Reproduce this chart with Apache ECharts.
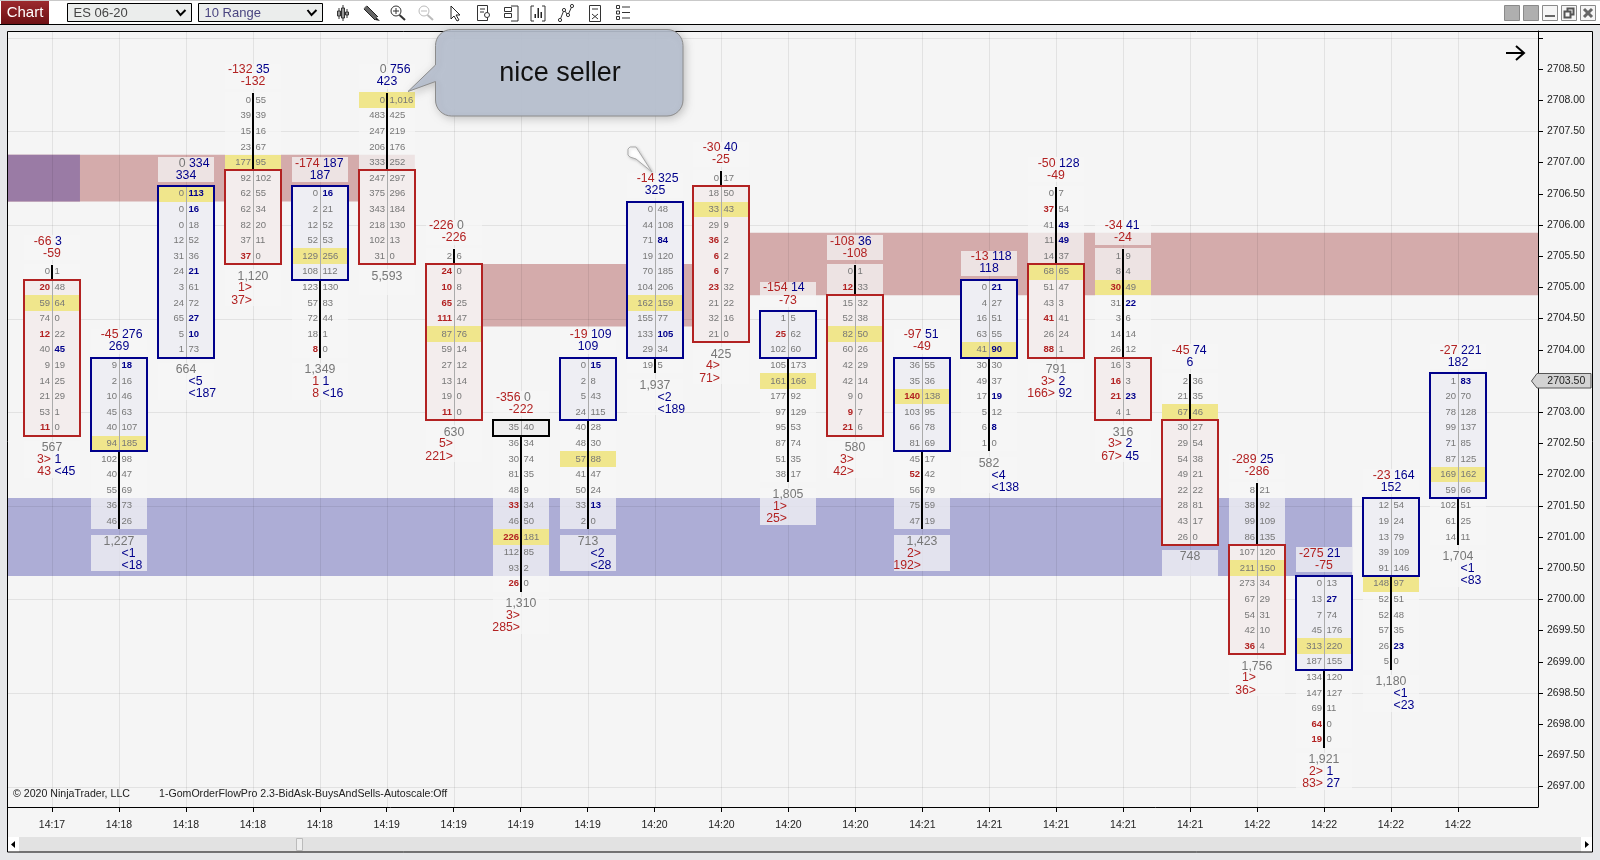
<!DOCTYPE html>
<html>
<head>
<meta charset="utf-8">
<style>html,body{margin:0;padding:0;background:#e6e7e9;overflow:hidden}#c{width:1600px;height:860px}</style>
<script src="https://cdn.jsdelivr.net/npm/echarts@6/dist/echarts.min.js"></script>
</head>
<body>
<div id="c"></div>
<script>
const timeLabels = ['14:17','14:18','14:18','14:18','14:18','14:19','14:19','14:19','14:19','14:20','14:20','14:20','14:20','14:21','14:21','14:21','14:21','14:21','14:22','14:22','14:22','14:22'];
const topPrices = [2705.25,2703.75,2706.5,2708,2706.5,2708,2705.5,2702.75,2703.75,2706.25,2706.75,2704.5,2705.25,2703.75,2705,2706.5,2705.5,2703.5,2701.75,2700.25,2701.5,2703.5];
const bidRows = [
 [0,20,59,74,12,40,9,14,21,53,11],[9,2,10,45,40,94,102,40,55,36,46],[0,0,0,12,31,24,3,24,65,5,1],
 [0,39,15,23,177,92,62,62,82,37,37],[0,2,12,52,129,108,123,57,72,18,8],[0,483,247,206,333,247,375,343,218,102,31],
 [2,24,10,65,111,87,59,27,13,19,11],[35,36,30,81,48,33,46,226,112,93,26],[0,2,5,24,40,48,57,41,50,33,2],
 [0,44,71,19,70,104,162,155,133,29,19],[0,18,33,29,36,6,6,23,21,32,21],[1,25,102,105,161,177,97,95,87,51,38],
 [0,12,15,52,82,60,42,42,9,9,21],[36,35,140,103,66,81,45,52,56,75,47],[0,4,16,63,41,30,49,17,5,6,1],
 [0,37,41,11,14,68,51,43,41,26,88],[1,8,30,31,3,14,26,16,16,21,4],[2,21,67,30,29,54,49,22,28,43,26],
 [8,38,99,86,107,211,273,67,54,42,36],[0,13,7,45,313,187,134,147,69,64,19],[12,19,13,39,91,148,52,52,57,26,5],
 [1,20,78,99,71,87,169,59,102,61,14]];
const askRows = [
 [1,48,64,0,22,45,19,25,29,1,0],[18,16,46,63,107,185,98,47,69,73,26],[113,16,18,52,36,21,61,72,27,10,73],
 [55,39,16,67,95,102,55,34,20,11,0],[16,21,52,53,256,112,130,83,44,1,0],['1,016',425,219,176,252,297,296,184,130,13,0],
 [6,0,8,25,47,76,14,12,14,0,0],[40,34,74,35,9,34,50,181,85,2,0],[15,8,43,115,28,30,88,47,24,13,0],
 [48,108,84,120,185,206,159,77,105,34,5],[17,50,43,9,2,2,7,32,22,16,0],[5,62,60,173,166,92,129,53,74,35,17],
 [1,33,32,38,50,26,29,14,0,7,6],[55,36,138,95,78,69,17,42,79,59,19],[21,27,51,55,90,30,37,19,12,8,0],
 [7,54,43,49,37,65,47,3,41,24,1],[9,4,49,22,6,14,12,3,3,23,1],[36,35,46,27,54,38,21,22,81,17,0],
 [21,92,109,135,120,150,34,29,31,10,4],[13,27,74,176,220,155,120,127,11,0,0],[54,24,79,109,146,97,51,48,35,23,0],
 [83,70,128,137,85,125,162,66,51,25,11]];
const pocRow = [2,5,0,4,4,0,5,7,6,6,2,4,4,2,4,5,2,2,5,4,5,6];
const bodyFirst = [1,0,0,5,0,5,1,0,0,0,1,0,2,0,0,5,7,3,4,0,0,0];
const bodyLast = [10,5,10,10,5,10,10,0,3,9,10,2,10,5,4,10,10,10,10,5,4,7];
const bodyKind = ['r','b','b','r','b','r','r','k','b','b','r','b','r','b','b','r','r','r','r','b','b','b'];
const boldBid = [[1,4,10],[],[],[10],[10],[],[1,2,3,4,10],[5,7,10],[],[],[4,5,6,7],[1],[1,9,10],[2,7],[],[1,8,10],[2,8,9],[],[10],[9,10],[],[]];
const boldAsk = [[5],[0],[0,1,5,8,9],[],[0],[],[],[],[0,9],[2,8],[],[],[],[],[0,4,7,9],[2,3],[3,9],[],[],[1],[9],[0]];
const deltaLow = [-66,-45,0,-132,-174,0,-226,-356,-19,-14,-30,-154,-108,-97,-13,-50,-34,-45,-289,-275,-23,-27];
const deltaHigh = [3,276,334,35,187,756,0,0,109,325,40,14,36,51,118,128,41,74,25,21,164,221];
const deltaClose = [-59,269,334,-132,187,423,-226,-222,109,325,-25,-73,-108,-49,118,-49,-24,6,-286,-75,152,182];
const volumes = ['567','1,227','664','1,120','1,349','5,593','630','1,310','713','1,937','425','1,805','580','1,423','582','791','316','748','1,756','1,921','1,180','1,704'];
const sellLine1 = ['3>','','','1>','1','','5>','3>','','','4>','1>','3>','2>','','3>','3>','','1>','2>','',''];
const buyLine1 = ['1','<1','<5','','1','','','','<2','<2','','','','','<4','2','2','','','1','<1','<1'];
const sellLine2 = ['43','','','37>','8','','221>','285>','','','71>','25>','42>','192>','','166>','67>','','36>','83>','',''];
const buyLine2 = ['<45','<18','<187','','<16','','','','<28','<189','','','','','<138','92','45','','','27','<23','<83'];
const bandTop = [2707.125,2707.125,2705.375,2705.875,2701.625];
const bandBottom = [2706.375,2706.375,2704.375,2704.875,2700.375];
const bandStart = [-0.657,-0.657,6,10,-0.657];
const bandEnd = [5.42,0.418,10.42,22.196,19.42];
const bandColor = ['#D4ABAB','#9A7BA5','#D4ABAB','#D4ABAB','#ADADD6'];
const gridPrices = [2709,2707.5,2706,2704.5,2703,2701.5,2700,2698.5,2697];
const priceTicks = [2709,2708.5,2708,2707.5,2707,2706.5,2706,2705.5,2705,2704.5,2704,2703.5,2703,2702.5,2702,2701.5,2701,2700.5,2700,2699.5,2699,2698.5,2698,2697.5,2697];
const priceLabels = priceTicks.slice(1);
const lastPrice = 2703.5;

const FF = '"Liberation Sans", Arial, sans-serif';
const RED = '#B22222', BLUE = '#00008B', GREY = '#777777', KHAKI = '#F0E68C';
const colIdx = timeLabels.map((_, i) => i);
const signColor = v => v < 0 ? RED : v > 0 ? BLUE : '#777';

function txt(x, y, text, fill, font, align) {
  return { type: 'text', silent: true, style: { x, y, text: String(text), fill, font, align, verticalAlign: 'middle' } };
}
function box(x, y, width, height, fill) {
  const x1 = Math.round(x), y1 = Math.round(y), x2 = Math.round(x + width), y2 = Math.round(y + height);
  return { type: 'rect', silent: true, shape: { x: x1, y: y1, width: x2 - x1, height: y2 - y1 }, style: { fill } };
}
function renderColumn(params, api) {
  const i = api.value(0);
  const top = topPrices[i];
  const p0 = api.coord([i, top]);
  const cx = Math.round(p0[0]), y0 = p0[1];
  const h = api.size([0, 0.25])[1];
  const n = bidRows[i].length;
  const ch = [];
  const rowY = k => y0 + k * h;
  const bT = Math.round(rowY(bodyFirst[i]) - h / 2), bB = Math.round(rowY(bodyLast[i]) + h / 2);
  const wash = 'rgba(245,245,245,0.75)';
  ch.push(box(cx - 28, y0 - 36.5, 56, 25, wash));
  const yLast = rowY(n - 1);
  const hasLines = sellLine1[i] || buyLine1[i] || sellLine2[i] || buyLine2[i];
  ch.push(box(cx - 28, yLast + 13.3, 56, hasLines ? 36.7 : 26, wash));
  for (let k = 0; k < n; k++) {
    if (k < bodyFirst[i] || k > bodyLast[i]) ch.push(box(cx - 28, rowY(k) - h / 2, 56, h, wash));
  }
  const kind = bodyKind[i];
  const fill = kind === 'r' ? '#F3EDED' : kind === 'b' ? '#EEEEF3' : '#EEEEEE';
  const stroke = kind === 'r' ? RED : kind === 'b' ? BLUE : '#000';
  ch.push(box(cx - 28, bT, 56, bB - bT, fill));
  const pocIn = pocRow[i] >= bodyFirst[i] && pocRow[i] <= bodyLast[i];
  ch.push(box(cx - 28, rowY(pocRow[i]) - h / 2, 56, h, KHAKI));
  ch.push(box(cx, bT, 1, bB - bT, '#ABABAB'));
  if (bodyFirst[i] > 0) ch.push(box(cx - 1, y0 - h / 2 + 1, 2, bT - y0 + h / 2 - 1, '#000'));
  if (bodyLast[i] < n - 1) ch.push(box(cx - 1, bB, 2, yLast + h / 2 - bB, '#000'));
  ch.push({ type: 'rect', silent: true, shape: { x: cx - 28, y: bT, width: 56, height: bB - bT },
    style: { fill: 'none', stroke, lineWidth: 2 } });
  for (let k = 0; k < n; k++) {
    const by = rowY(k);
    const bb = boldBid[i].includes(k), ab = boldAsk[i].includes(k);
    ch.push(txt(cx - 2, by, bidRows[i][k], bb ? RED : GREY, (bb ? 'bold ' : '') + '9.5px ' + FF, 'right'));
    ch.push(txt(cx + 2.5, by, askRows[i][k], ab ? BLUE : GREY, (ab ? 'bold ' : '') + '9.5px ' + FF, 'left'));
  }
  const big = '12.3px ' + FF;
  ch.push(txt(cx - 0.5, y0 - 30.5, deltaLow[i], signColor(deltaLow[i]), big, 'right'));
  ch.push(txt(cx + 3, y0 - 30.5, deltaHigh[i], signColor(deltaHigh[i]), big, 'left'));
  ch.push(txt(cx, y0 - 18.3, deltaClose[i], signColor(deltaClose[i]), big, 'center'));
  ch.push(txt(cx, yLast + 20, volumes[i], '#777', big, 'center'));
  ch.push(txt(cx - 1, yLast + 31.8, sellLine1[i], RED, big, 'right'));
  ch.push(txt(cx + 2.5, yLast + 31.8, buyLine1[i], BLUE, big, 'left'));
  ch.push(txt(cx - 1, yLast + 44, sellLine2[i], RED, big, 'right'));
  ch.push(txt(cx + 2.5, yLast + 44, buyLine2[i], BLUE, big, 'left'));
  return { type: 'group', children: ch };
}
function renderBand(params, api) {
  const i = api.value(0);
  const a = api.coord([bandStart[i], bandTop[i]]);
  const b = api.coord([bandEnd[i], bandBottom[i]]);
  return { type: 'rect', silent: true, shape: { x: a[0], y: a[1], width: b[0] - a[0], height: b[1] - a[1] }, style: { fill: bandColor[i] } };
}
const gridStroke = 'rgba(0,0,0,0.075)';
function renderHLine(params, api) {
  const y = Math.round(api.coord([0, gridPrices[api.value(0)]])[1]) + 0.5;
  return { type: 'line', silent: true, shape: { x1: 8, y1: y, x2: 1538, y2: y }, style: { stroke: gridStroke, lineWidth: 1 } };
}
function renderVLine(params, api) {
  const x = Math.round(api.coord([api.value(0), 2700])[0]) + 0.5;
  return { type: 'line', silent: true, shape: { x1: x, y1: 31, x2: x, y2: 807 }, style: { stroke: gridStroke, lineWidth: 1 } };
}

const g = [];
const rect = (x, y, w, h, fill, stroke, extra) => ({ type: 'rect', silent: true, z: (extra && extra.z) || 200, shape: { x, y, width: w, height: h, r: (extra && extra.r) || 0 }, style: Object.assign({ fill, stroke: stroke || null, lineWidth: 1 }, (extra && extra.style) || {}) });
const pl = (pts, stroke, lw, fill) => ({ type: 'polyline', silent: true, z: 201, shape: { points: pts }, style: { stroke: stroke || '#333', lineWidth: lw || 1, fill: fill || null } });
const poly = (pts, fill, stroke, extra) => ({ type: 'polygon', silent: true, z: (extra && extra.z) || 201, shape: { points: pts }, style: Object.assign({ fill, stroke: stroke || null, lineWidth: 1 }, (extra && extra.style) || {}) });
const tx = (x, y, text, fill, font, align) => ({ type: 'text', silent: true, z: 202, x, y, style: { text, fill, font, align: align || 'left', verticalAlign: 'middle' } });

g.push(rect(7.5, 31.5, 1585, 820.5, '#F5F5F5', null, { z: -10 }));
g.push(rect(0, 0, 1600, 24, '#fff'));
g.push(rect(0, 0, 1600, 1, '#c9c9c9'));
g.push(rect(0, 24, 1600, 1, '#000'));
g.push({ type: 'rect', silent: true, z: 200, shape: { x: 1, y: 1, width: 48, height: 23 },
  style: { fill: { type: 'linear', x: 0, y: 0, x2: 0, y2: 1, colorStops: [{ offset: 0, color: '#9c2a2e' }, { offset: 1, color: '#6e1014' }] } } });
g.push(tx(25, 13, 'Chart', '#fff', '15px ' + FF, 'center'));
[[67.5, 'ES 06-20', '#444'], [198.5, '10 Range', '#4a4580']].forEach(d => {
  g.push(rect(d[0], 3.5, 124, 18, '#EBEDEC', '#000'));
  g.push(tx(d[0] + 6, 13, d[1], d[2], '13px ' + FF));
  g.push(pl([[d[0] + 109, 10], [d[0] + 113, 15], [d[0] + 118, 10]], '#000', 2));
});
[[339, 8, 19], [343, 5, 21], [347, 9, 18]].forEach(a => {
  g.push(pl([[a[0], a[1]], [a[0], a[2]]], '#333', 1));
  g.push(rect(a[0] - 1.5, a[1] + 3, 3, a[2] - a[1] - 6, '#fff', '#333'));
});
g.push(pl([[365, 7], [376, 18]], '#666', 4));
g.push(pl([[367, 6], [378, 17]], '#222', 1));
g.push(pl([[364, 9], [375, 20]], '#222', 1));
g.push(poly([[376, 17], [380, 21], [375, 20]], '#222'));
[[398, '#333', true], [426, '#bbb', false]].forEach(a => {
  g.push({ type: 'circle', silent: true, z: 201, shape: { cx: a[0] - 2, cy: 11, r: 5 }, style: { fill: '#fff', stroke: a[1], lineWidth: 1 } });
  g.push(pl([[a[0] + 1.5, 15], [a[0] + 7, 20]], a[1], 2));
  g.push(pl([[a[0] - 5, 11], [a[0] + 1, 11]], a[1], 1));
  if (a[2]) g.push(pl([[a[0] - 2, 8], [a[0] - 2, 14]], a[1], 1));
});
g.push(poly([[451, 6], [451, 19], [454, 16], [457, 21], [459, 20], [456, 15], [460, 15]], '#fff', '#222'));
g.push(rect(477.5, 5.5, 10, 15, '#fff', '#333'));
g.push(pl([[480, 9], [485, 9]], '#333', 1)); g.push(pl([[480, 12], [484, 12]], '#333', 1));
g.push({ type: 'circle', silent: true, z: 201, shape: { cx: 487, cy: 15, r: 2.5 }, style: { fill: '#fff', stroke: '#333' } });
g.push(rect(504.5, 7.5, 7, 4, '#fff', '#333')); g.push(rect(504.5, 13.5, 7, 4, '#fff', '#333'));
g.push(pl([[511, 6], [518, 6], [518, 21], [511, 21]], '#333', 1));
g.push(pl([[534, 6], [531, 6], [531, 21], [534, 21]], '#333', 1));
g.push(pl([[542, 6], [545, 6], [545, 21], [542, 21]], '#333', 1));
[[535, 14], [538, 8], [541, 12]].forEach(a => g.push(rect(a[0] - 0.5, a[1], 1.5, 18 - a[1], '#222')));
g.push(pl([[560, 20], [564, 10], [568, 15], [572, 6]], '#333', 1));
[[560, 20], [564, 10], [568, 15], [572, 6]].forEach(a => g.push({ type: 'circle', silent: true, z: 202, shape: { cx: a[0], cy: a[1], r: 1.6 }, style: { fill: '#fff', stroke: '#333' } }));
g.push(rect(589.5, 5.5, 11, 16, '#fff', '#333'));
g.push(pl([[592, 9], [598, 9]], '#333', 1)); g.push(pl([[592, 14], [598, 19]], '#333', 1)); g.push(pl([[598, 14], [592, 19]], '#333', 1));
[7, 12.5, 18].forEach(y => { g.push(rect(616.5, y - 1.5, 3, 3, '#fff', '#333')); g.push(pl([[622, y], [630, y]], '#333', 1)); });
[1504, 1523].forEach(x => g.push(rect(x + 0.5, 5.5, 15, 15, '#AFAFAF', '#8a8a8a')));
[1542, 1561, 1580].forEach(x => g.push(rect(x + 0.5, 5.5, 15, 15, '#F5F5F5', '#8a8a8a')));
g.push(rect(1545, 15, 10, 2, '#666'));
g.push(rect(1567.5, 8.5, 6, 6, 'none', '#555', { style: { lineWidth: 2 } }));
g.push(rect(1564.5, 11.5, 6, 6, '#F5F5F5', '#555', { style: { lineWidth: 2 } }));
g.push(pl([[1584, 9], [1592, 17]], '#666', 3)); g.push(pl([[1592, 9], [1584, 17]], '#666', 3));
g.push(rect(8, 837, 1584, 15, '#E2E2E2'));
g.push(rect(8, 837, 11, 15, '#fff'));
g.push(rect(1581, 837, 11, 15, '#fff'));
g.push(poly([[11, 844.5], [15, 841], [15, 848]], '#000'));
g.push(poly([[1589, 844.5], [1585, 841], [1585, 848]], '#000'));
g.push(rect(296.5, 838.5, 6, 12, '#eee', '#bbb'));
g.push(rect(7.5, 31.5, 1585, 820.5, 'none', '#000'));
g.push(tx(13, 794.5, '© 2020 NinjaTrader, LLC', '#222', '10.6px ' + FF));
g.push(tx(159, 794.5, '1-GomOrderFlowPro 2.3-BidAsk-BuysAndSells-Autoscale:Off', '#222', '10.6px ' + FF));
g.push(pl([[1506, 53], [1523, 53]], '#000', 2));
g.push(pl([[1516, 46], [1524, 53], [1516, 60]], '#000', 2));
function arc(cx, cy, r, a0, a1) {
  const out = [];
  for (let k = 0; k <= 8; k++) { const a = (a0 + (a1 - a0) * k / 8) * Math.PI / 180; out.push([cx + r * Math.cos(a), cy + r * Math.sin(a)]); }
  return out;
}
const L = 435.5, R = 683, T = 29.5, B = 116, Cr = 16;
const bubble = [].concat(arc(L + Cr, T + Cr, Cr, 180, 270), arc(R - Cr, T + Cr, Cr, 270, 360), arc(R - Cr, B - Cr, Cr, 0, 90), arc(L + Cr, B - Cr, Cr, 90, 180), [[L, 81.5], [408, 91.5], [L, 65]]);
g.push(poly(bubble, 'rgba(184,193,208,0.92)', '#8c8c8c', { z: 210, style: { shadowBlur: 8, shadowColor: 'rgba(0,0,0,0.22)', shadowOffsetX: 2, shadowOffsetY: 2 } }));
g.push(Object.assign(tx(560, 73.5, 'nice seller', '#111', '27px ' + FF, 'center'), { z: 211 }));
g.push(poly([[630, 147], [636, 147], [652, 172], [636, 159], [630, 157], [628, 155], [628, 149]], '#fff', '#aaa', { z: 210, style: { shadowBlur: 3, shadowColor: 'rgba(0,0,0,0.2)', shadowOffsetX: 1, shadowOffsetY: 1 } }));
g.push(poly([[1531.5, 381], [1537, 373.5], [1591, 373.5], [1591, 388], [1537, 388]], '#D3D3D3', '#555', { z: 210 }));
g.push(Object.assign(tx(1547.3, 381, lastPrice.toFixed(2), '#222', '10.5px ' + FF), { z: 211 }));

const noAnim = { animation: false, silent: true, coordinateSystem: 'cartesian2d', type: 'custom', clip: false };
const chart = echarts.init(document.getElementById('c'), null, { renderer: 'canvas', width: 1600, height: 860 });
chart.setOption({
  animation: false,
  backgroundColor: '#E6E7E9',
  tooltip: { show: false },
  grid: { left: 8, right: 62, top: 31, bottom: 53, containLabel: false },
  xAxis: {
    type: 'value', min: -0.657, max: 22.196, position: 'bottom',
    axisLine: { show: true, onZero: false, lineStyle: { color: '#000', width: 1 } },
    axisTick: { show: true, length: 5, customValues: colIdx, lineStyle: { color: '#000' } },
    axisLabel: { show: true, customValues: colIdx, margin: 13, color: '#222', fontFamily: FF, fontSize: 10.5,
      formatter: v => timeLabels[Math.round(v)] },
    splitLine: { show: false }
  },
  yAxis: {
    type: 'value', min: 2696.673, max: 2709.109, position: 'right', scale: true,
    axisLine: { show: true, onZero: false, lineStyle: { color: '#000', width: 1 } },
    axisTick: { show: true, length: 5, customValues: priceTicks, lineStyle: { color: '#000' } },
    axisLabel: { show: true, customValues: priceLabels, margin: 9, color: '#222', fontFamily: FF, fontSize: 10.5,
      formatter: v => v.toFixed(2) },
    splitLine: { show: false }
  },
  graphic: { elements: g },
  series: [
    Object.assign({ name: 'bands', z: 1, data: bandTop.map((_, i) => [i]), encode: { x: 0, y: -1 }, renderItem: renderBand }, noAnim),
    Object.assign({ name: 'hgrid', z: 2, data: gridPrices.map((_, i) => [i]), encode: { x: 0, y: -1 }, renderItem: renderHLine }, noAnim),
    Object.assign({ name: 'vgrid', z: 2, data: colIdx.map(i => [i]), encode: { x: 0, y: -1 }, renderItem: renderVLine }, noAnim),
    Object.assign({ name: 'footprint', z: 3, data: colIdx.map(i => [i, topPrices[i]]), encode: { x: 0, y: 1 }, renderItem: renderColumn }, noAnim)
  ]
});
</script>
</body>
</html>
